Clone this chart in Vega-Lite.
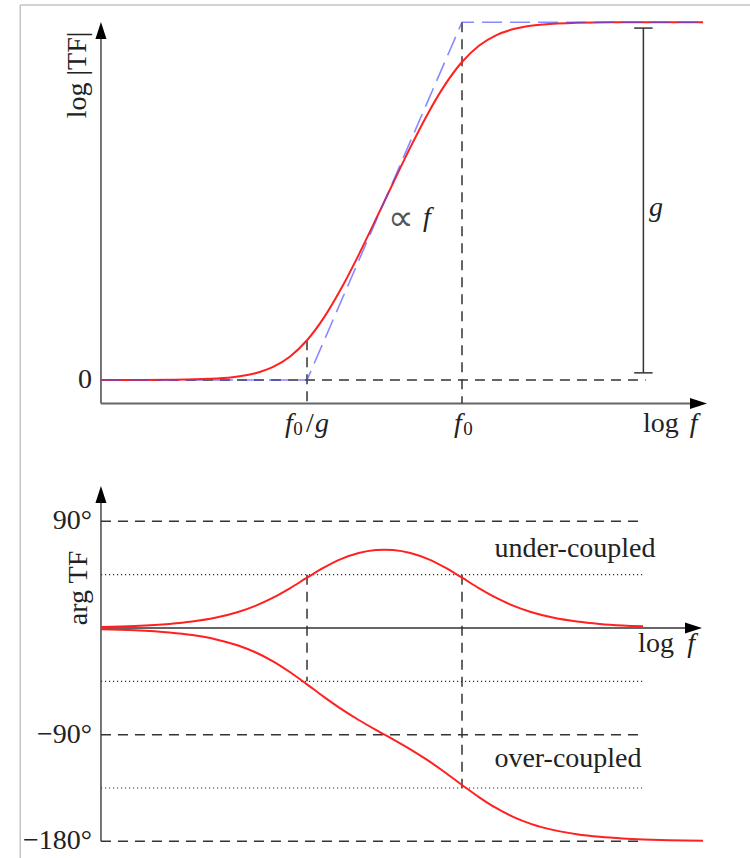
{
  "$schema": "https://vega.github.io/schema/vega-lite/v6.json",
  "width": 750,
  "height": 858,
  "autosize": {"type": "none"},
  "padding": 0,
  "background": "white",
  "config": {
    "view": {"stroke": null},
    "text": {"font": "Liberation Serif", "fontSize": 28, "color": "#222222"}
  },
  "datasets": {
    "magnitude": [
      {"x": -3.145, "m": 0.0001}, {"x": -2.8, "m": 0.0003}, {"x": -2.5, "m": 0.0011},
      {"x": -2.2, "m": 0.0043}, {"x": -2.0, "m": 0.0106}, {"x": -1.8, "m": 0.0257},
      {"x": -1.65, "m": 0.0486}, {"x": -1.5, "m": 0.088}, {"x": -1.35, "m": 0.1501},
      {"x": -1.2, "m": 0.2373}, {"x": -1.05, "m": 0.3469}, {"x": -0.9, "m": 0.4723},
      {"x": -0.75, "m": 0.6065}, {"x": -0.6, "m": 0.7435}, {"x": -0.45, "m": 0.8777},
      {"x": -0.3, "m": 1.0031}, {"x": -0.15, "m": 1.1127}, {"x": 0.0, "m": 1.1999},
      {"x": 0.15, "m": 1.262}, {"x": 0.3, "m": 1.3014}, {"x": 0.45, "m": 1.3243},
      {"x": 0.6, "m": 1.3367}, {"x": 0.8, "m": 1.3446}, {"x": 1.0, "m": 1.3478},
      {"x": 1.3, "m": 1.35}, {"x": 1.6, "m": 1.35}, {"x": 2.1, "m": 1.35}
    ],
    "asymptote": [
      {"x": -3.145, "m": 0}, {"x": -1.35, "m": 0}, {"x": 0, "m": 1.35}, {"x": 2.1, "m": 1.35}
    ],
    "phase": [
      {"branch": "under", "x": -3.145, "deg": 0.87}, {"branch": "under", "x": -2.85, "deg": 1.73},
      {"branch": "under", "x": -2.55, "deg": 3.45}, {"branch": "under", "x": -2.35, "deg": 5.46},
      {"branch": "under", "x": -2.15, "deg": 8.6}, {"branch": "under", "x": -1.95, "deg": 13.46},
      {"branch": "under", "x": -1.8, "deg": 18.63}, {"branch": "under", "x": -1.65, "deg": 25.34},
      {"branch": "under", "x": -1.5, "deg": 33.49}, {"branch": "under", "x": -1.35, "deg": 42.44},
      {"branch": "under", "x": -1.2, "deg": 51.09}, {"branch": "under", "x": -1.05, "deg": 58.29},
      {"branch": "under", "x": -0.9, "deg": 63.28}, {"branch": "under", "x": -0.75, "deg": 65.82},
      {"branch": "under", "x": -0.675, "deg": 66.14}, {"branch": "under", "x": -0.6, "deg": 65.82},
      {"branch": "under", "x": -0.45, "deg": 63.28}, {"branch": "under", "x": -0.3, "deg": 58.29},
      {"branch": "under", "x": -0.15, "deg": 51.09}, {"branch": "under", "x": 0.0, "deg": 42.44},
      {"branch": "under", "x": 0.15, "deg": 33.49}, {"branch": "under", "x": 0.3, "deg": 25.34},
      {"branch": "under", "x": 0.45, "deg": 18.63}, {"branch": "under", "x": 0.6, "deg": 13.46},
      {"branch": "under", "x": 0.8, "deg": 8.6}, {"branch": "under", "x": 1.0, "deg": 5.46},
      {"branch": "under", "x": 1.2, "deg": 3.45}, {"branch": "under", "x": 1.4, "deg": 2.18},
      {"branch": "under", "x": 1.577, "deg": 1.45},
      {"branch": "over", "x": -3.145, "deg": -0.95}, {"branch": "over", "x": -2.85, "deg": -1.89},
      {"branch": "over", "x": -2.55, "deg": -3.77}, {"branch": "over", "x": -2.35, "deg": -5.97},
      {"branch": "over", "x": -2.15, "deg": -9.41}, {"branch": "over", "x": -1.95, "deg": -14.75},
      {"branch": "over", "x": -1.8, "deg": -20.45}, {"branch": "over", "x": -1.65, "deg": -27.9},
      {"branch": "over", "x": -1.5, "deg": -37.11}, {"branch": "over", "x": -1.35, "deg": -47.56},
      {"branch": "over", "x": -1.2, "deg": -58.31}, {"branch": "over", "x": -1.05, "deg": -68.47},
      {"branch": "over", "x": -0.9, "deg": -77.64}, {"branch": "over", "x": -0.75, "deg": -85.98},
      {"branch": "over", "x": -0.675, "deg": -90.0}, {"branch": "over", "x": -0.6, "deg": -94.02},
      {"branch": "over", "x": -0.45, "deg": -102.36}, {"branch": "over", "x": -0.3, "deg": -111.53},
      {"branch": "over", "x": -0.15, "deg": -121.69}, {"branch": "over", "x": 0.0, "deg": -132.44},
      {"branch": "over", "x": 0.15, "deg": -142.89}, {"branch": "over", "x": 0.3, "deg": -152.1},
      {"branch": "over", "x": 0.45, "deg": -159.55}, {"branch": "over", "x": 0.6, "deg": -165.26},
      {"branch": "over", "x": 0.8, "deg": -170.58}, {"branch": "over", "x": 1.0, "deg": -174.03},
      {"branch": "over", "x": 1.2, "deg": -176.23}, {"branch": "over", "x": 1.4, "deg": -177.62},
      {"branch": "over", "x": 1.58, "deg": -178.42}, {"branch": "over", "x": 1.8, "deg": -179.05},
      {"branch": "over", "x": 2.1, "deg": -179.55}
    ],
    "frame": [
      {"x": -3.848, "x2": -3.848, "m": 1.415, "m2": -1.80377},
      {"x": -3.848, "x2": 2.5087, "m": 1.415, "m2": 1.415}
    ],
    "topAxes": [
      {"x": -3.145, "x2": -3.145, "m": -0.0887, "m2": 1.3},
      {"x": -3.145, "x2": 2.03, "m": -0.0887, "m2": -0.0887}
    ],
    "topDashed": [
      {"x": -3.145, "x2": 1.6, "m": 0, "m2": 0},
      {"x": -1.35, "x2": -1.35, "m": 0.1501, "m2": -0.0887},
      {"x": 0, "x2": 0, "m": 1.35, "m2": -0.0887}
    ],
    "gainBar": [
      {"x": 1.58, "x2": 1.58, "m": 0.027, "m2": 1.328},
      {"x": 1.5, "x2": 1.66, "m": 1.328, "m2": 1.328},
      {"x": 1.5, "x2": 1.66, "m": 0.027, "m2": 0.027}
    ],
    "topArrows": [
      {"dir": "up", "x": -3.145, "m": 1.3189},
      {"dir": "right", "x": 2.06, "m": -0.0887}
    ],
    "bottomAxes": [
      {"x": -3.145, "x2": -3.145, "deg": -180, "deg2": 110},
      {"x": -3.145, "x2": 1.98, "deg": 0, "deg2": 0}
    ],
    "bottomDashed": [
      {"x": -3.145, "x2": 1.577, "deg": 90, "deg2": 90},
      {"x": -3.145, "x2": 1.577, "deg": -90, "deg2": -90},
      {"x": -3.145, "x2": 1.577, "deg": -180, "deg2": -180},
      {"x": -1.35, "x2": -1.35, "deg": 45, "deg2": -45},
      {"x": 0, "x2": 0, "deg": 45, "deg2": -135}
    ],
    "bottomDotted": [
      {"x": -3.145, "x2": 1.577, "deg": 45, "deg2": 45},
      {"x": -3.145, "x2": 1.577, "deg": -45, "deg2": -45},
      {"x": -3.145, "x2": 1.577, "deg": -135, "deg2": -135}
    ],
    "bottomArrows": [
      {"dir": "up", "x": -3.145, "deg": 112.66},
      {"dir": "right", "x": 2.0166, "deg": 0}
    ],
    "topUpright": [
      {"label": "log", "x": 1.733, "m": -0.1962},
      {"label": "/", "x": -1.324, "m": -0.1962}
    ],
    "topSymbol": [
      {"label": "∝", "x": -0.531, "m": 0.565}
    ],
    "topSubscript": [
      {"label": "0", "x": -1.429, "m": -0.2075},
      {"label": "0", "x": 0.052, "m": -0.2075}
    ],
    "topItalic": [
      {"label": "f", "x": 2.017, "m": -0.1962},
      {"label": "f", "x": -0.305, "m": 0.581},
      {"label": "g", "x": 1.69, "m": 0.619},
      {"label": "f", "x": -1.507, "m": -0.1962},
      {"label": "g", "x": -1.2195, "m": -0.1962},
      {"label": "f", "x": -0.035, "m": -0.1962}
    ],
    "topTicks": [
      {"label": "0", "x": -3.223, "m": 0}
    ],
    "topTitle": [
      {"label": "log |TF|", "x": -3.345, "m": 1.151}
    ],
    "bottomUpright": [
      {"label": "under-coupled", "x": 0.984, "deg": 60.3},
      {"label": "over-coupled", "x": 0.923, "deg": -117.5},
      {"label": "log", "x": 1.69, "deg": -20.25}
    ],
    "bottomItalic": [
      {"label": "f", "x": 1.995, "deg": -20.25}
    ],
    "bottomTicks": [
      {"label": "90°", "x": -3.223, "deg": 90},
      {"label": "−90°", "x": -3.223, "deg": -90},
      {"label": "−180°", "x": -3.223, "deg": -180}
    ],
    "bottomTitle": [
      {"label": "arg TF", "x": -3.336, "deg": 33.76}
    ]
  },
  "resolve": {"scale": {"y": "independent"}},
  "layer": [
    {
      "layer": [
        {
          "data": {"name": "frame"},
          "mark": {"type": "rule", "color": "#c4c4c4", "strokeWidth": 1.5},
          "encoding": {
            "x": {"field": "x", "type": "quantitative", "scale": {"domain": [-4.0244, 2.5087], "nice": false, "zero": false}, "axis": null},
            "x2": {"field": "x2"},
            "y": {"field": "m", "type": "quantitative", "scale": {"domain": [-1.80377, 1.43396], "nice": false, "zero": false}, "axis": null},
            "y2": {"field": "m2"}
          }
        },
        {
          "data": {"name": "topAxes"},
          "mark": {"type": "rule", "color": "#666666", "strokeWidth": 1.8},
          "encoding": {
            "x": {"field": "x", "type": "quantitative", "scale": {"domain": [-4.0244, 2.5087], "nice": false, "zero": false}, "axis": null},
            "x2": {"field": "x2"},
            "y": {"field": "m", "type": "quantitative", "scale": {"domain": [-1.80377, 1.43396], "nice": false, "zero": false}, "axis": null},
            "y2": {"field": "m2"}
          }
        },
        {
          "data": {"name": "topDashed"},
          "mark": {"type": "rule", "color": "#333333", "strokeWidth": 1.5, "strokeDash": [10, 7]},
          "encoding": {
            "x": {"field": "x", "type": "quantitative", "scale": {"domain": [-4.0244, 2.5087], "nice": false, "zero": false}, "axis": null},
            "x2": {"field": "x2"},
            "y": {"field": "m", "type": "quantitative", "scale": {"domain": [-1.80377, 1.43396], "nice": false, "zero": false}, "axis": null},
            "y2": {"field": "m2"}
          }
        },
        {
          "data": {"name": "gainBar"},
          "mark": {"type": "rule", "color": "#333333", "strokeWidth": 1.5},
          "encoding": {
            "x": {"field": "x", "type": "quantitative", "scale": {"domain": [-4.0244, 2.5087], "nice": false, "zero": false}, "axis": null},
            "x2": {"field": "x2"},
            "y": {"field": "m", "type": "quantitative", "scale": {"domain": [-1.80377, 1.43396], "nice": false, "zero": false}, "axis": null},
            "y2": {"field": "m2"}
          }
        },
        {
          "data": {"name": "magnitude"},
          "mark": {"type": "line", "color": "#ff2020", "strokeWidth": 2, "interpolate": "monotone"},
          "encoding": {
            "x": {"field": "x", "type": "quantitative", "scale": {"domain": [-4.0244, 2.5087], "nice": false, "zero": false}, "axis": null},
            "y": {"field": "m", "type": "quantitative", "scale": {"domain": [-1.80377, 1.43396], "nice": false, "zero": false}, "axis": null}
          }
        },
        {
          "data": {"name": "asymptote"},
          "mark": {"type": "line", "color": "#4a4aff", "opacity": 0.65, "strokeWidth": 1.6, "strokeDash": [20, 8]},
          "encoding": {
            "x": {"field": "x", "type": "quantitative", "scale": {"domain": [-4.0244, 2.5087], "nice": false, "zero": false}, "axis": null},
            "y": {"field": "m", "type": "quantitative", "scale": {"domain": [-1.80377, 1.43396], "nice": false, "zero": false}, "axis": null}
          }
        },
        {
          "data": {"name": "topArrows"},
          "transform": [{"filter": "datum.dir === 'up'"}],
          "mark": {"type": "point", "shape": "M0,-1L0.65,1L-0.65,1Z", "filled": true, "color": "#000000", "opacity": 1, "size": 289},
          "encoding": {
            "x": {"field": "x", "type": "quantitative", "scale": {"domain": [-4.0244, 2.5087], "nice": false, "zero": false}, "axis": null},
            "y": {"field": "m", "type": "quantitative", "scale": {"domain": [-1.80377, 1.43396], "nice": false, "zero": false}, "axis": null}
          }
        },
        {
          "data": {"name": "topArrows"},
          "transform": [{"filter": "datum.dir === 'right'"}],
          "mark": {"type": "point", "shape": "M1,0L-1,0.65L-1,-0.65Z", "filled": true, "color": "#000000", "opacity": 1, "size": 289},
          "encoding": {
            "x": {"field": "x", "type": "quantitative", "scale": {"domain": [-4.0244, 2.5087], "nice": false, "zero": false}, "axis": null},
            "y": {"field": "m", "type": "quantitative", "scale": {"domain": [-1.80377, 1.43396], "nice": false, "zero": false}, "axis": null}
          }
        },
        {
          "data": {"name": "topUpright"},
          "mark": {"type": "text", "align": "center", "baseline": "alphabetic"},
          "encoding": {
            "x": {"field": "x", "type": "quantitative", "scale": {"domain": [-4.0244, 2.5087], "nice": false, "zero": false}, "axis": null},
            "y": {"field": "m", "type": "quantitative", "scale": {"domain": [-1.80377, 1.43396], "nice": false, "zero": false}, "axis": null},
            "text": {"field": "label"}
          }
        },
        {
          "data": {"name": "topSymbol"},
          "mark": {"type": "text", "align": "center", "baseline": "alphabetic", "font": "DejaVu Sans", "fontSize": 36, "fontWeight": 200, "color": "#555555"},
          "encoding": {
            "x": {"field": "x", "type": "quantitative", "scale": {"domain": [-4.0244, 2.5087], "nice": false, "zero": false}, "axis": null},
            "y": {"field": "m", "type": "quantitative", "scale": {"domain": [-1.80377, 1.43396], "nice": false, "zero": false}, "axis": null},
            "text": {"field": "label"}
          }
        },
        {
          "data": {"name": "topSubscript"},
          "mark": {"type": "text", "align": "center", "baseline": "alphabetic", "fontSize": 19},
          "encoding": {
            "x": {"field": "x", "type": "quantitative", "scale": {"domain": [-4.0244, 2.5087], "nice": false, "zero": false}, "axis": null},
            "y": {"field": "m", "type": "quantitative", "scale": {"domain": [-1.80377, 1.43396], "nice": false, "zero": false}, "axis": null},
            "text": {"field": "label"}
          }
        },
        {
          "data": {"name": "topItalic"},
          "mark": {"type": "text", "align": "center", "baseline": "alphabetic", "fontStyle": "italic"},
          "encoding": {
            "x": {"field": "x", "type": "quantitative", "scale": {"domain": [-4.0244, 2.5087], "nice": false, "zero": false}, "axis": null},
            "y": {"field": "m", "type": "quantitative", "scale": {"domain": [-1.80377, 1.43396], "nice": false, "zero": false}, "axis": null},
            "text": {"field": "label"}
          }
        },
        {
          "data": {"name": "topTicks"},
          "mark": {"type": "text", "align": "right", "baseline": "middle"},
          "encoding": {
            "x": {"field": "x", "type": "quantitative", "scale": {"domain": [-4.0244, 2.5087], "nice": false, "zero": false}, "axis": null},
            "y": {"field": "m", "type": "quantitative", "scale": {"domain": [-1.80377, 1.43396], "nice": false, "zero": false}, "axis": null},
            "text": {"field": "label"}
          }
        },
        {
          "data": {"name": "topTitle"},
          "mark": {"type": "text", "align": "center", "baseline": "middle", "angle": 270},
          "encoding": {
            "x": {"field": "x", "type": "quantitative", "scale": {"domain": [-4.0244, 2.5087], "nice": false, "zero": false}, "axis": null},
            "y": {"field": "m", "type": "quantitative", "scale": {"domain": [-1.80377, 1.43396], "nice": false, "zero": false}, "axis": null},
            "text": {"field": "label"}
          }
        }
      ]
    },
    {
      "layer": [
        {
          "data": {"name": "bottomAxes"},
          "mark": {"type": "rule", "color": "#666666", "strokeWidth": 1.8},
          "encoding": {
            "x": {"field": "x", "type": "quantitative", "scale": {"domain": [-4.0244, 2.5087], "nice": false, "zero": false}, "axis": null},
            "x2": {"field": "x2"},
            "y": {"field": "deg", "type": "quantitative", "scale": {"domain": [-194.09, 529.96], "nice": false, "zero": false}, "axis": null},
            "y2": {"field": "deg2"}
          }
        },
        {
          "data": {"name": "bottomDashed"},
          "mark": {"type": "rule", "color": "#333333", "strokeWidth": 1.5, "strokeDash": [10, 7]},
          "encoding": {
            "x": {"field": "x", "type": "quantitative", "scale": {"domain": [-4.0244, 2.5087], "nice": false, "zero": false}, "axis": null},
            "x2": {"field": "x2"},
            "y": {"field": "deg", "type": "quantitative", "scale": {"domain": [-194.09, 529.96], "nice": false, "zero": false}, "axis": null},
            "y2": {"field": "deg2"}
          }
        },
        {
          "data": {"name": "bottomDotted"},
          "mark": {"type": "rule", "color": "#333333", "strokeWidth": 1.2, "strokeDash": [1.2, 2.8]},
          "encoding": {
            "x": {"field": "x", "type": "quantitative", "scale": {"domain": [-4.0244, 2.5087], "nice": false, "zero": false}, "axis": null},
            "x2": {"field": "x2"},
            "y": {"field": "deg", "type": "quantitative", "scale": {"domain": [-194.09, 529.96], "nice": false, "zero": false}, "axis": null},
            "y2": {"field": "deg2"}
          }
        },
        {
          "data": {"name": "phase"},
          "mark": {"type": "line", "color": "#ff2020", "strokeWidth": 2, "interpolate": "monotone"},
          "encoding": {
            "x": {"field": "x", "type": "quantitative", "scale": {"domain": [-4.0244, 2.5087], "nice": false, "zero": false}, "axis": null},
            "y": {"field": "deg", "type": "quantitative", "scale": {"domain": [-194.09, 529.96], "nice": false, "zero": false}, "axis": null},
            "detail": {"field": "branch", "type": "nominal"}
          }
        },
        {
          "data": {"name": "bottomArrows"},
          "transform": [{"filter": "datum.dir === 'up'"}],
          "mark": {"type": "point", "shape": "M0,-1L0.65,1L-0.65,1Z", "filled": true, "color": "#000000", "opacity": 1, "size": 289},
          "encoding": {
            "x": {"field": "x", "type": "quantitative", "scale": {"domain": [-4.0244, 2.5087], "nice": false, "zero": false}, "axis": null},
            "y": {"field": "deg", "type": "quantitative", "scale": {"domain": [-194.09, 529.96], "nice": false, "zero": false}, "axis": null}
          }
        },
        {
          "data": {"name": "bottomArrows"},
          "transform": [{"filter": "datum.dir === 'right'"}],
          "mark": {"type": "point", "shape": "M1,0L-1,0.65L-1,-0.65Z", "filled": true, "color": "#000000", "opacity": 1, "size": 289},
          "encoding": {
            "x": {"field": "x", "type": "quantitative", "scale": {"domain": [-4.0244, 2.5087], "nice": false, "zero": false}, "axis": null},
            "y": {"field": "deg", "type": "quantitative", "scale": {"domain": [-194.09, 529.96], "nice": false, "zero": false}, "axis": null}
          }
        },
        {
          "data": {"name": "bottomUpright"},
          "mark": {"type": "text", "align": "center", "baseline": "alphabetic"},
          "encoding": {
            "x": {"field": "x", "type": "quantitative", "scale": {"domain": [-4.0244, 2.5087], "nice": false, "zero": false}, "axis": null},
            "y": {"field": "deg", "type": "quantitative", "scale": {"domain": [-194.09, 529.96], "nice": false, "zero": false}, "axis": null},
            "text": {"field": "label"}
          }
        },
        {
          "data": {"name": "bottomItalic"},
          "mark": {"type": "text", "align": "center", "baseline": "alphabetic", "fontStyle": "italic"},
          "encoding": {
            "x": {"field": "x", "type": "quantitative", "scale": {"domain": [-4.0244, 2.5087], "nice": false, "zero": false}, "axis": null},
            "y": {"field": "deg", "type": "quantitative", "scale": {"domain": [-194.09, 529.96], "nice": false, "zero": false}, "axis": null},
            "text": {"field": "label"}
          }
        },
        {
          "data": {"name": "bottomTicks"},
          "mark": {"type": "text", "align": "right", "baseline": "middle"},
          "encoding": {
            "x": {"field": "x", "type": "quantitative", "scale": {"domain": [-4.0244, 2.5087], "nice": false, "zero": false}, "axis": null},
            "y": {"field": "deg", "type": "quantitative", "scale": {"domain": [-194.09, 529.96], "nice": false, "zero": false}, "axis": null},
            "text": {"field": "label"}
          }
        },
        {
          "data": {"name": "bottomTitle"},
          "mark": {"type": "text", "align": "center", "baseline": "middle", "angle": 270},
          "encoding": {
            "x": {"field": "x", "type": "quantitative", "scale": {"domain": [-4.0244, 2.5087], "nice": false, "zero": false}, "axis": null},
            "y": {"field": "deg", "type": "quantitative", "scale": {"domain": [-194.09, 529.96], "nice": false, "zero": false}, "axis": null},
            "text": {"field": "label"}
          }
        }
      ]
    }
  ]
}
